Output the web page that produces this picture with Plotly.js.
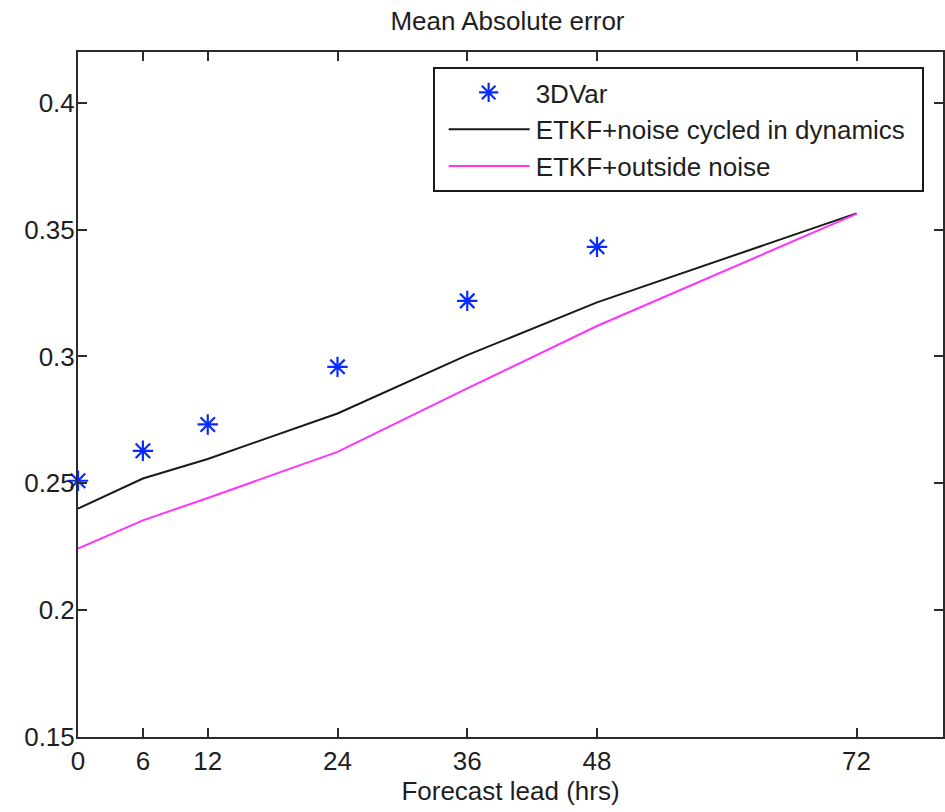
<!DOCTYPE html>
<html>
<head>
<meta charset="utf-8">
<script src="https://cdn.plot.ly/plotly-3.0.1.min.js"></script>
<style>
  html, body { margin: 0; padding: 0; background: #ffffff; }
  #chart { width: 945px; height: 812px; }
</style>
</head>
<body>
<div id="chart"></div>
<script>
// Forecast lead times (hrs)
const leadVar = [0, 6, 12, 24, 36, 48];
const lead = [0, 6, 12, 24, 36, 48, 72];

// Series values
const mae3DVar = [0.251, 0.2628, 0.2732, 0.2959, 0.3219, 0.3432];
const maeEtkfCycled = [0.2400, 0.2519, 0.2596, 0.2775, 0.3005, 0.3213, 0.3564];
const maeEtkfOutside = [0.2243, 0.2354, 0.2442, 0.2624, 0.2874, 0.3120, 0.3562];

// Tick labels
const xTickVals = [0, 6, 12, 24, 36, 48, 72];
const xTickText = ['0', '6', '12', '24', '36', '48', '72'];
const yTickVals = [0.15, 0.2, 0.25, 0.3, 0.35, 0.4];
const yTickText = ['0.15', '0.2', '0.25', '0.3', '0.35', '0.4'];

const FONT = 'Liberation Sans, Arial, Helvetica, sans-serif';
const AXIS_COLOR = '#2b2b2b';
const TEXT_COLOR = '#1e1e1e';

const traces = [
  {
    x: leadVar, y: mae3DVar, name: '3DVar',
    type: 'scatter', mode: 'markers', cliponaxis: false,
    marker: { symbol: 'asterisk-open', size: 17, color: '#0a2bff', line: { color: '#0a2bff', width: 2.2 } }
  },
  {
    x: lead, y: maeEtkfCycled, name: 'ETKF+noise cycled in dynamics',
    type: 'scatter', mode: 'lines',
    line: { color: '#1a1a1a', width: 2 }
  },
  {
    x: lead, y: maeEtkfOutside, name: 'ETKF+outside noise',
    type: 'scatter', mode: 'lines',
    line: { color: '#ff33ff', width: 2 }
  }
];

const layout = {
  width: 945, height: 812,
  margin: { l: 78, r: 2, t: 52, b: 75, pad: 0 },
  paper_bgcolor: '#ffffff', plot_bgcolor: '#ffffff',
  font: { family: FONT, size: 26, color: TEXT_COLOR },
  title: { text: 'Mean Absolute error', font: { family: FONT, size: 26, color: TEXT_COLOR }, x: 0.537, xanchor: 'center', y: 0.974, yanchor: 'middle' },
  showlegend: true,
  legend: {
    x: 0.41, xanchor: 'left', y: 0.978, yanchor: 'top',
    bgcolor: '#ffffff', bordercolor: '#1a1a1a', borderwidth: 2,
    font: { family: FONT, size: 26, color: TEXT_COLOR },
    itemwidth: 91, tracegroupgap: 0
  },
  xaxis: {
    range: [0, 80], tickvals: xTickVals, ticktext: xTickText,
    ticks: 'inside', ticklen: 9, tickwidth: 2, tickcolor: AXIS_COLOR,
    showline: true, linecolor: AXIS_COLOR, linewidth: 2, mirror: 'ticks',
    showgrid: false, zeroline: false, automargin: true,
    tickfont: { family: FONT, size: 26, color: TEXT_COLOR },
    title: { text: 'Forecast lead (hrs)', font: { family: FONT, size: 26, color: TEXT_COLOR }, standoff: 0 }
  },
  yaxis: {
    range: [0.15, 0.42], tickvals: yTickVals, ticktext: yTickText,
    ticks: 'inside', ticklen: 9, tickwidth: 2, tickcolor: AXIS_COLOR,
    showline: true, linecolor: AXIS_COLOR, linewidth: 2, mirror: 'ticks',
    showgrid: false, zeroline: false, ticklabelstandoff: -4, automargin: false,
    tickfont: { family: FONT, size: 26, color: TEXT_COLOR }
  }
};

Plotly.newPlot('chart', traces, layout, { displayModeBar: false, staticPlot: true }).then(function (gd) {
  // MATLAB-style legend: longer line samples, centred markers, a bit more right padding
  gd.querySelectorAll('.legend .legendlines path').forEach(function (p) {
    p.setAttribute('d', 'M14,0h81');
  });
  gd.querySelectorAll('.legend .legendpoints path.scatterpts').forEach(function (p) {
    p.setAttribute('transform', 'translate(54,0)');
  });
  const bg = gd.querySelector('.legend rect.bg');
  if (bg) {
    const w = parseFloat(bg.getAttribute('width'));
    bg.setAttribute('width', String(w + 11));
  }
});
</script>
</body>
</html>
